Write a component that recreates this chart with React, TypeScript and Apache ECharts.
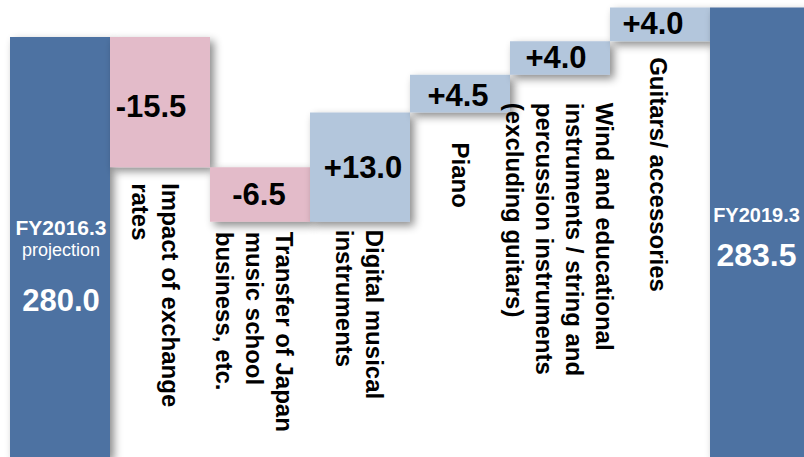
import React, { useEffect, useRef } from "react";
import * as echarts from "echarts";

// ---- data ----
const startLabel = "FY2016.3";
const startSubLabel = "projection";
const startValue = 280.0;
const endLabel = "FY2019.3";
const endValue = 283.5;
const changeCategories = [
  "Impact of exchange\nrates",
  "Transfer of Japan\nmusic school\nbusiness, etc.",
  "Digital musical\ninstruments",
  "Piano",
  "Wind and educational\ninstruments / string and\npercussion instruments\n(excluding guitars)",
  "Guitars/ accessories",
];
const changeValues = [-15.5, -6.5, 13.0, 4.5, 4.0, 4.0];

// ---- layout (styling only) ----
const valueLabelOffsets = [
  [-9, 4],
  [-1, 0],
  [3, 0],
  [-2, 2],
  [-4, 0],
  [-7, -1],
];
// [dx from bar centre, distance below bar bottom]
const catLabelLayout = [
  [-4.5, 16],
  [-6, 10],
  [-1, 8],
  [0, 30],
  [-1, 28],
  [-2, 16],
];

const DARK = "#4E72A2";
const PINK = "#E3BBC9";
const LIGHT = "#B3C6DC";
const FONT = "'Liberation Sans', Arial, Helvetica, sans-serif";

export default function App() {
  const ref = useRef<HTMLDivElement>(null);

  useEffect(() => {
    if (!ref.current) return;
    const chart = echarts.init(ref.current, undefined, { renderer: "svg" });

    const categories = [startLabel, ...changeCategories, endLabel];
    const n = categories.length;
    const baseData: number[] = [0];
    const barData: number[] = [startValue];
    let running = startValue;
    changeValues.forEach((v) => {
      const next = running + v;
      baseData.push(Math.min(running, next));
      barData.push(Math.abs(v));
      running = next;
    });
    baseData.push(0);
    barData.push(endValue);

    const shadow = {
      shadowBlur: 8,
      shadowColor: "rgba(0,0,0,0.45)",
      shadowOffsetX: 4,
      shadowOffsetY: 4,
    };

    const option: any = {
      animation: false,
      grid: { left: 10, top: 0, bottom: 0, width: 800, outerBoundsMode: "none", containLabel: false },
      xAxis: { type: "category", data: categories, show: false },
      yAxis: { type: "value", min: 230, max: 284.4, show: false },
      series: [
        {
          type: "bar",
          stack: "w",
          silent: true,
          barCategoryGap: "0%",
          itemStyle: { color: "transparent" },
          label: {
            show: false,
            formatter: (p: any) => categories[p.dataIndex],
            rotate: -90,
            align: "left",
            verticalAlign: "middle",
            fontSize: 24,
            fontWeight: "bold",
            lineHeight: 30,
            color: "#000",
            fontFamily: FONT,
          },
          data: baseData.map((v, i) => {
            if (i === 0 || i === n - 1) return { value: v, label: { show: false } };
            const [dx, d] = catLabelLayout[i - 1];
            return { value: v, label: { show: true, position: [50 + dx, d] } };
          }),
        },
        {
          type: "bar",
          stack: "w",
          barCategoryGap: "0%",
          data: barData.map((v, i) => {
            if (i === 0) {
              return {
                value: v,
                itemStyle: { color: DARK, ...shadow },
                label: {
                  show: true,
                  position: [51, 180],
                  align: "center",
                  verticalAlign: "top",
                  formatter: () =>
                    `{a|${startLabel}}\n{b|${startSubLabel}}\n{c|${startValue.toFixed(1)}}`,
                  rich: {
                    a: { fontSize: 21, fontWeight: "bold", lineHeight: 22, color: "#fff", fontFamily: FONT },
                    b: { fontSize: 18, lineHeight: 22, color: "#fff", fontFamily: FONT },
                    c: { fontSize: 31, fontWeight: "bold", lineHeight: 80, color: "#fff", fontFamily: FONT },
                  },
                },
              };
            }
            if (i === n - 1) {
              return {
                value: v,
                itemStyle: { color: DARK, ...shadow },
                label: {
                  show: true,
                  position: [46.5, 196],
                  align: "center",
                  verticalAlign: "top",
                  formatter: () => `{a|${endLabel}}\n{c|${endValue.toFixed(1)}}`,
                  rich: {
                    a: { fontSize: 20, fontWeight: "bold", lineHeight: 22, color: "#fff", fontFamily: FONT },
                    c: { fontSize: 32, fontWeight: "bold", lineHeight: 58, color: "#fff", fontFamily: FONT },
                  },
                },
              };
            }
            const cv = changeValues[i - 1];
            return {
              value: v,
              itemStyle: { color: cv < 0 ? PINK : LIGHT, ...shadow },
              label: {
                show: true,
                position: "inside",
                offset: valueLabelOffsets[i - 1],
                formatter: () => (cv > 0 ? "+" : "-") + Math.abs(cv).toFixed(1),
                fontSize: 31,
                fontWeight: "bold",
                color: "#000",
                fontFamily: FONT,
              },
            };
          }),
        },
      ],
    };

    chart.setOption(option);
    return () => chart.dispose();
  }, []);

  return (
    <div
      ref={ref}
      style={{ position: "absolute", left: 0, top: 0, width: 804, height: 457, background: "#fff" }}
    />
  );
}
